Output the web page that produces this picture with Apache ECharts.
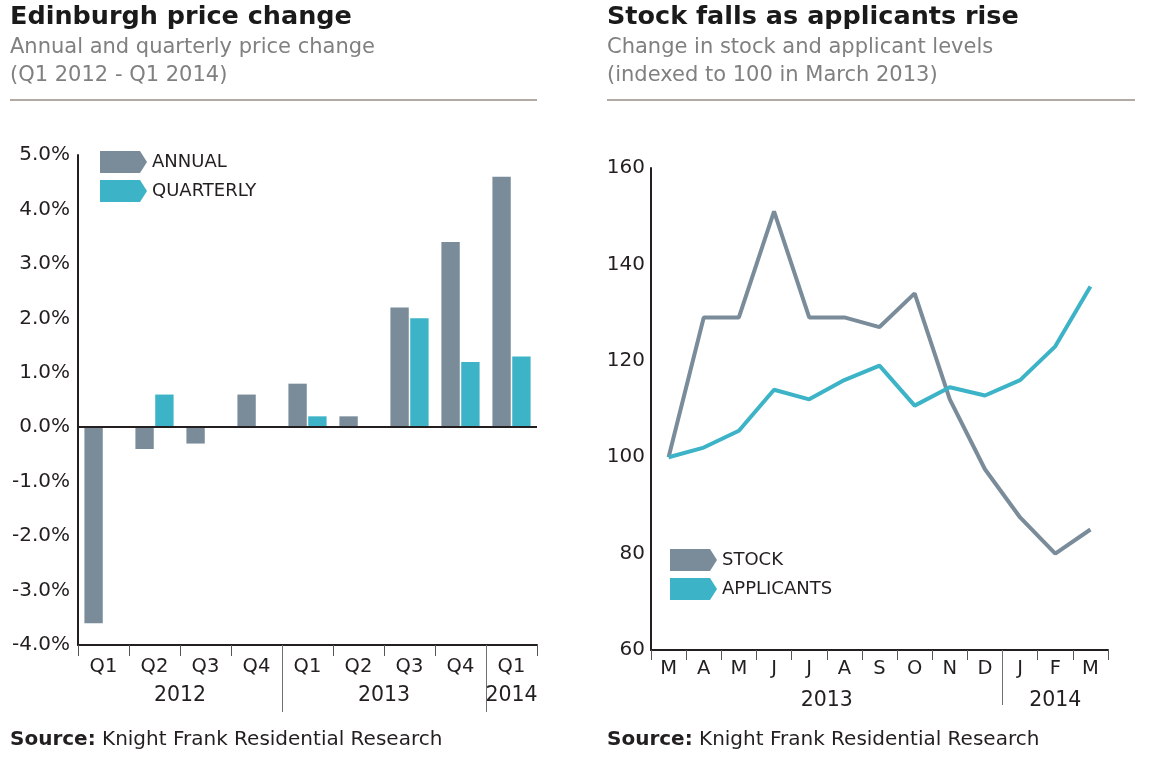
<!DOCTYPE html>
<html><head><meta charset="utf-8">
<script src="https://cdn.jsdelivr.net/npm/echarts@6/dist/echarts.min.js"></script>
<style>html,body{margin:0;padding:0;background:#fff}#c{width:1149px;height:761px}</style>
</head><body><div id="c"></div>
<script>
// ---- data ----
const quarterLabels = ['Q1','Q2','Q3','Q4','Q1','Q2','Q3','Q4','Q1'];
const quarterYears = ['2012','2013','2014'];
const quartersPerYear = [4,4,1];
const annualChange = [-3.6,-0.4,-0.3,0.6,0.8,0.2,2.2,3.4,4.6];
const quarterlyChange = [0,0.6,0,0,0.2,0,2.0,1.2,1.3];
const pctTicks = [-4,-3,-2,-1,0,1,2,3,4,5];

const monthLabels = ['M','A','M','J','J','A','S','O','N','D','J','F','M'];
const monthYears = ['2013','2014'];
const monthsPerYear = [10,3];
const stockIndex = [100,129,129,151,129,129,127,134,112,97.5,87.5,80,85];
const applicantsIndex = [100,102,105.5,114,112,116,119,110.7,114.5,112.8,116,123,135.4];
const indexTicks = [60,80,100,120,140,160];

// ---- style ----
const FONT = 'DejaVu Sans';
const GRAY = '#7a8c9a';
const TEAL = '#3cb3c6';
const INK = '#231f20';
const ARROW = 'path://M0,0 L40,0 L47,11 L40,22 L0,22 Z';

function yearAxis(labels, spans, gridIndex, margin, sepLen) {
  const total = spans.reduce((a, b) => a + b, 0);
  const data = [];
  for (let i = 0; i <= total * 2; i++) data.push(String(i));
  const lbl = {};
  const seps = [];
  let start = 0;
  spans.forEach((s, i) => {
    lbl[start * 2 + s] = labels[i];
    start += s;
    if (start < total) seps.push(start * 2);
  });
  return {
    type: 'category', gridIndex: gridIndex, position: 'bottom', boundaryGap: false, data: data,
    axisLine: { show: false, onZero: false },
    axisTick: { show: true, interval: (idx) => seps.indexOf(idx) >= 0, length: sepLen,
      lineStyle: { color: '#707070', width: 1 } },
    axisLabel: { interval: (idx) => lbl[idx] !== undefined, formatter: (v, idx) => lbl[idx] || '',
      margin: margin, fontSize: 20.5, color: INK, fontFamily: FONT },
    splitLine: { show: false }
  };
}

const srcStyle = { fontFamily: FONT, fontSize: 20, fontWeight: 'normal', color: INK,
  rich: { b: { fontFamily: FONT, fontSize: 20, fontWeight: 'bold', color: INK } } };

const chart = echarts.init(document.getElementById('c'));
chart.setOption({
  animation: false,
  backgroundColor: '#fff',
  textStyle: { fontFamily: FONT },
  title: [
    { text: 'Edinburgh price change', left: 10, top: 4, padding: 0,
      textStyle: { fontFamily: FONT, fontSize: 25.5, fontWeight: 'bold', color: '#1a1a1a' } },
    { text: 'Annual and quarterly price change\n(Q1 2012 - Q1 2014)', left: 10, top: 34, padding: 0,
      textStyle: { fontFamily: FONT, fontSize: 21, lineHeight: 28, fontWeight: 'normal', color: '#808080' } },
    { text: 'Stock falls as applicants rise', left: 607, top: 4, padding: 0,
      textStyle: { fontFamily: FONT, fontSize: 25.5, fontWeight: 'bold', color: '#1a1a1a' } },
    { text: 'Change in stock and applicant levels\n(indexed to 100 in March 2013)', left: 607, top: 34, padding: 0,
      textStyle: { fontFamily: FONT, fontSize: 21, lineHeight: 28, fontWeight: 'normal', color: '#808080' } },
    { text: '{b|Source:} Knight Frank Residential Research', left: 10, top: 730, padding: 0, textStyle: srcStyle },
    { text: '{b|Source:} Knight Frank Residential Research', left: 607, top: 730, padding: 0, textStyle: srcStyle }
  ],
  graphic: [
    { type: 'line', shape: { x1: 10, y1: 100, x2: 537, y2: 100 }, style: { stroke: '#b3aaa3', lineWidth: 2 } },
    { type: 'line', shape: { x1: 607, y1: 100, x2: 1135, y2: 100 }, style: { stroke: '#b3aaa3', lineWidth: 2 } }
  ],
  legend: [
    { data: ['ANNUAL', 'QUARTERLY'], orient: 'vertical', left: 100, top: 151, padding: 0,
      itemWidth: 47, itemHeight: 22, itemGap: 7, icon: ARROW,
      itemStyle: { borderWidth: 0 },
      textStyle: { fontFamily: FONT, fontSize: 18, color: INK } },
    { data: ['STOCK', 'APPLICANTS'], orient: 'vertical', left: 670, top: 549, padding: 0,
      itemWidth: 47, itemHeight: 23, itemGap: 7, icon: ARROW,
      itemStyle: { borderWidth: 0 },
      textStyle: { fontFamily: FONT, fontSize: 18, color: INK } }
  ],
  grid: [
    { left: 78, right: 612, top: 155, bottom: 116 },
    { left: 651, right: 41, top: 168, bottom: 111 }
  ],
  xAxis: [
    { type: 'category', gridIndex: 0, position: 'bottom', data: quarterLabels, boundaryGap: true,
      axisLine: { onZero: false, lineStyle: { color: INK, width: 2 } },
      axisTick: { show: true, length: 11, lineStyle: { color: '#555', width: 1 } },
      axisLabel: { interval: 0, margin: 12, fontSize: 19.5, color: INK, fontFamily: FONT },
      splitLine: { show: false } },
    yearAxis(quarterYears, quartersPerYear, 0, 40, 67),
    { type: 'category', gridIndex: 1, position: 'bottom', data: monthLabels, boundaryGap: true,
      axisLine: { onZero: false, lineStyle: { color: INK, width: 2 } },
      axisTick: { show: true, length: 10, lineStyle: { color: '#555', width: 1 } },
      axisLabel: { interval: 0, margin: 9, fontSize: 19.5, color: INK, fontFamily: FONT },
      splitLine: { show: false } },
    yearAxis(monthYears, monthsPerYear, 1, 40, 55)
  ],
  yAxis: [
    { type: 'value', gridIndex: 0, min: pctTicks[0], max: pctTicks[pctTicks.length - 1], interval: 1,
      axisLine: { show: true, lineStyle: { color: INK, width: 2 } },
      axisTick: { show: false }, splitLine: { show: false },
      axisLabel: { margin: 8, fontSize: 20, color: INK, fontFamily: FONT,
        formatter: (v) => v.toFixed(1) + '%' } },
    { type: 'value', gridIndex: 1, min: indexTicks[0], max: indexTicks[indexTicks.length - 1], interval: 20,
      axisLine: { show: true, lineStyle: { color: INK, width: 2 } },
      axisTick: { show: false }, splitLine: { show: false },
      axisLabel: { margin: 6, fontSize: 20, color: INK, fontFamily: FONT } }
  ],
  series: [
    { name: 'ANNUAL', type: 'bar', xAxisIndex: 0, yAxisIndex: 0, data: annualChange,
      barWidth: '36%', barGap: '8%', itemStyle: { color: GRAY },
      markLine: { silent: true, symbol: 'none', label: { show: false },
        lineStyle: { color: INK, width: 2, type: 'solid' }, data: [{ yAxis: 0 }] } },
    { name: 'QUARTERLY', type: 'bar', xAxisIndex: 0, yAxisIndex: 0, data: quarterlyChange,
      barWidth: '36%', barGap: '8%', itemStyle: { color: TEAL } },
    { name: 'STOCK', type: 'line', xAxisIndex: 2, yAxisIndex: 1, data: stockIndex,
      showSymbol: false, symbol: 'none', lineStyle: { color: GRAY, width: 4 }, itemStyle: { color: GRAY } },
    { name: 'APPLICANTS', type: 'line', xAxisIndex: 2, yAxisIndex: 1, data: applicantsIndex,
      showSymbol: false, symbol: 'none', lineStyle: { color: TEAL, width: 4 }, itemStyle: { color: TEAL } }
  ]
});
</script>
</body></html>
